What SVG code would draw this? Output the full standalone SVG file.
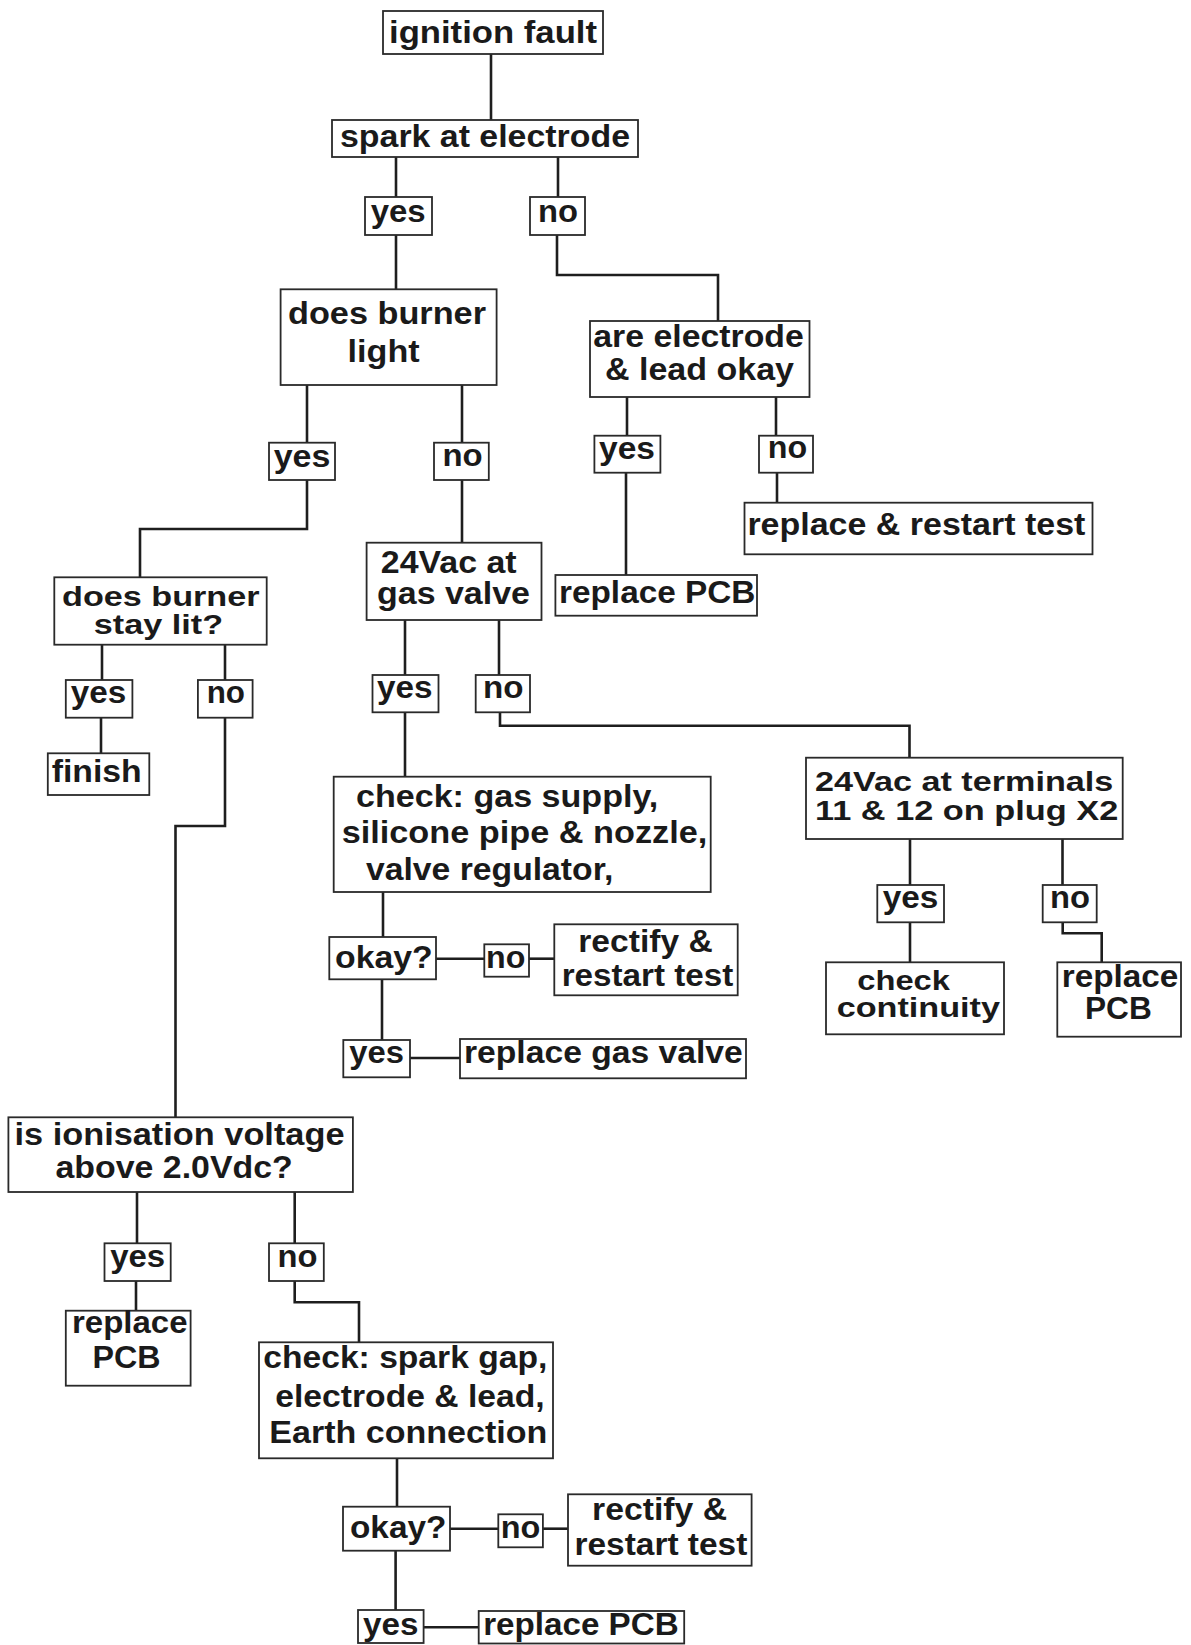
<svg xmlns="http://www.w3.org/2000/svg" width="1191" height="1645" viewBox="0 0 1191 1645">
<style>
.box{fill:#fff;stroke:#2a2a2a;stroke-width:1.8}
.c{fill:none;stroke:#1e1e1e;stroke-width:2.6}
text{font-family:"Liberation Sans",Arial,sans-serif;font-weight:bold;font-size:31px;fill:#1a1a1a}
text.s{font-size:28px}
</style>
<rect width="1191" height="1645" fill="#fff"/>
<g id="connectors">
<path class="c" d="M491,54V120"/>
<path class="c" d="M396,157V197"/>
<path class="c" d="M558,157V197"/>
<path class="c" d="M396,235V289"/>
<path class="c" d="M557,235V275H718V321"/>
<path class="c" d="M307,385V443"/>
<path class="c" d="M462,385V443"/>
<path class="c" d="M627,397V436"/>
<path class="c" d="M776,397V436"/>
<path class="c" d="M307,480V529H140V577"/>
<path class="c" d="M462,480V543"/>
<path class="c" d="M626,473V575"/>
<path class="c" d="M777,473V503"/>
<path class="c" d="M102,645V680"/>
<path class="c" d="M225,645V680"/>
<path class="c" d="M101,718V753"/>
<path class="c" d="M225,718V826H175.5V1117"/>
<path class="c" d="M405,620V675"/>
<path class="c" d="M499,620V675"/>
<path class="c" d="M405,712V777"/>
<path class="c" d="M500,712V725.7H909.5V758"/>
<path class="c" d="M383,892V937"/>
<path class="c" d="M436,958.7H484"/>
<path class="c" d="M529,958.7H554"/>
<path class="c" d="M382,979V1040"/>
<path class="c" d="M410,1058H460"/>
<path class="c" d="M910,839V885"/>
<path class="c" d="M1062.5,839V885"/>
<path class="c" d="M910,922V962"/>
<path class="c" d="M1062.7,922V933.3H1101.7V962.3"/>
<path class="c" d="M137,1192V1243"/>
<path class="c" d="M294.7,1192V1243"/>
<path class="c" d="M136,1281V1311"/>
<path class="c" d="M294.7,1281V1302.3H359V1342"/>
<path class="c" d="M397,1458V1507"/>
<path class="c" d="M450,1528.7H498"/>
<path class="c" d="M543,1528.7H568"/>
<path class="c" d="M395.6,1551V1610"/>
<path class="c" d="M423.6,1627.3H478.7"/>
</g>
<g id="n-ignition-fault"><rect class="box" x="383" y="11" width="220" height="43"/><text x="389" y="43" textLength="208" lengthAdjust="spacingAndGlyphs">ignition fault</text></g>
<g id="n-spark"><rect class="box" x="332" y="120" width="306" height="37"/><text x="340" y="147" textLength="290" lengthAdjust="spacingAndGlyphs">spark at electrode</text></g>
<g id="n-spark-yes"><rect class="box" x="365" y="197" width="67" height="38"/><text x="370.7" y="222" textLength="55" lengthAdjust="spacingAndGlyphs">yes</text></g>
<g id="n-spark-no"><rect class="box" x="530" y="197" width="55" height="38"/><text x="538" y="222" textLength="40" lengthAdjust="spacingAndGlyphs">no</text></g>
<g id="n-burner-light"><rect class="box" x="280.6" y="289.3" width="216" height="95.7"/><text x="288" y="324" textLength="198" lengthAdjust="spacingAndGlyphs">does burner</text><text x="347.6" y="361.7" textLength="72" lengthAdjust="spacingAndGlyphs">light</text></g>
<g id="n-electrode-ok"><rect class="box" x="590" y="321" width="219.5" height="76"/><text x="593.3" y="347.3" textLength="210.5" lengthAdjust="spacingAndGlyphs">are electrode</text><text x="605" y="380" textLength="189" lengthAdjust="spacingAndGlyphs">&amp; lead okay</text></g>
<g id="n-light-yes"><rect class="box" x="269" y="442.7" width="66" height="37.3"/><text x="273.7" y="466.7" textLength="56.7" lengthAdjust="spacingAndGlyphs">yes</text></g>
<g id="n-light-no"><rect class="box" x="434" y="442.7" width="54.8" height="37.3"/><text x="442.5" y="466" textLength="40.2" lengthAdjust="spacingAndGlyphs">no</text></g>
<g id="n-electrode-yes"><rect class="box" x="594.4" y="435.7" width="66" height="37"/><text x="599" y="459.3" textLength="56" lengthAdjust="spacingAndGlyphs">yes</text></g>
<g id="n-electrode-no"><rect class="box" x="759" y="435.7" width="54" height="37"/><text x="767.8" y="458.3" textLength="39.4" lengthAdjust="spacingAndGlyphs">no</text></g>
<g id="n-replace-restart"><rect class="box" x="744.5" y="502.7" width="348" height="51.6"/><text x="747.4" y="535" textLength="338" lengthAdjust="spacingAndGlyphs">replace &amp; restart test</text></g>
<g id="n-replace-pcb-1"><rect class="box" x="555.4" y="575" width="201.6" height="40.7"/><text x="559" y="603.3" textLength="196.4" lengthAdjust="spacingAndGlyphs">replace PCB</text></g>
<g id="n-stay-lit"><rect class="box" x="54.3" y="577.3" width="212.4" height="67.4"/><text class="s" x="62" y="605.7" textLength="197.5" lengthAdjust="spacingAndGlyphs">does burner</text><text class="s" x="93.8" y="634.3" textLength="129.3" lengthAdjust="spacingAndGlyphs">stay lit?</text></g>
<g id="n-stay-yes"><rect class="box" x="65.8" y="680" width="66.6" height="37.7"/><text x="70.8" y="703.3" textLength="55.5" lengthAdjust="spacingAndGlyphs">yes</text></g>
<g id="n-stay-no"><rect class="box" x="197.9" y="680" width="54.7" height="37.7"/><text x="206.7" y="703.3" textLength="38.3" lengthAdjust="spacingAndGlyphs">no</text></g>
<g id="n-finish"><rect class="box" x="47.8" y="753.3" width="101.5" height="41.7"/><text x="51.7" y="781.7" textLength="90" lengthAdjust="spacingAndGlyphs">finish</text></g>
<g id="n-24vac-valve"><rect class="box" x="366.6" y="542.7" width="174.9" height="77.3"/><text x="380.8" y="572.7" textLength="135.8" lengthAdjust="spacingAndGlyphs">24Vac at</text><text x="377" y="604" textLength="153" lengthAdjust="spacingAndGlyphs">gas valve</text></g>
<g id="n-valve-yes"><rect class="box" x="372.5" y="675" width="66" height="37.3"/><text x="377" y="698.3" textLength="55.5" lengthAdjust="spacingAndGlyphs">yes</text></g>
<g id="n-valve-no"><rect class="box" x="475.7" y="675" width="54.3" height="37.3"/><text x="483" y="698.3" textLength="40.5" lengthAdjust="spacingAndGlyphs">no</text></g>
<g id="n-check-gas"><rect class="box" x="333.7" y="776.7" width="377" height="115.3"/><text x="356" y="806.7" textLength="302.3" lengthAdjust="spacingAndGlyphs">check: gas supply,</text><text x="341.7" y="843.3" textLength="365.6" lengthAdjust="spacingAndGlyphs">silicone pipe &amp; nozzle,</text><text x="366" y="880" textLength="247.3" lengthAdjust="spacingAndGlyphs">valve regulator,</text></g>
<g id="n-okay-1"><rect class="box" x="329.3" y="937" width="106.7" height="42.3"/><text x="335" y="968.3" textLength="97.7" lengthAdjust="spacingAndGlyphs">okay?</text></g>
<g id="n-okay-1-no"><rect class="box" x="484.3" y="944.3" width="44.7" height="32.4"/><text x="486" y="968.3" textLength="39.3" lengthAdjust="spacingAndGlyphs">no</text></g>
<g id="n-rectify-1"><rect class="box" x="554.3" y="924.3" width="183.4" height="71"/><text x="578.3" y="951.7" textLength="134.4" lengthAdjust="spacingAndGlyphs">rectify &amp;</text><text x="561.7" y="986" textLength="171.6" lengthAdjust="spacingAndGlyphs">restart test</text></g>
<g id="n-okay-1-yes"><rect class="box" x="343.3" y="1040" width="66.7" height="37.3"/><text x="349.3" y="1062.7" textLength="54.7" lengthAdjust="spacingAndGlyphs">yes</text></g>
<g id="n-replace-valve"><rect class="box" x="460" y="1039" width="286" height="39.3"/><text x="464" y="1062.7" textLength="278.7" lengthAdjust="spacingAndGlyphs">replace gas valve</text></g>
<g id="n-24vac-terminals"><rect class="box" x="806" y="757.7" width="316.7" height="81.3"/><text class="s" x="815" y="790.7" textLength="298.3" lengthAdjust="spacingAndGlyphs">24Vac at terminals</text><text class="s" x="815" y="820" textLength="303.3" lengthAdjust="spacingAndGlyphs">11 &amp; 12 on plug X2</text></g>
<g id="n-term-yes"><rect class="box" x="877.3" y="885" width="66.7" height="37.3"/><text x="882.7" y="908.3" textLength="55.6" lengthAdjust="spacingAndGlyphs">yes</text></g>
<g id="n-term-no"><rect class="box" x="1042.7" y="885" width="54" height="37.3"/><text x="1050" y="908.3" textLength="40" lengthAdjust="spacingAndGlyphs">no</text></g>
<g id="n-continuity"><rect class="box" x="826" y="962.3" width="178" height="72"/><text class="s" x="857.3" y="990" textLength="92.7" lengthAdjust="spacingAndGlyphs">check</text><text class="s" x="836.7" y="1016.7" textLength="163.3" lengthAdjust="spacingAndGlyphs">continuity</text></g>
<g id="n-replace-pcb-2"><rect class="box" x="1057.3" y="962.3" width="123.7" height="74.4"/><text x="1061.7" y="986.7" textLength="116.6" lengthAdjust="spacingAndGlyphs">replace</text><text x="1085" y="1019.3" textLength="66.7" lengthAdjust="spacingAndGlyphs">PCB</text></g>
<g id="n-ionisation"><rect class="box" x="8.4" y="1117.3" width="344.5" height="74.7"/><text x="14.5" y="1145" textLength="330" lengthAdjust="spacingAndGlyphs">is ionisation voltage</text><text x="55.5" y="1178.3" textLength="237.3" lengthAdjust="spacingAndGlyphs">above 2.0Vdc?</text></g>
<g id="n-ion-yes"><rect class="box" x="104.5" y="1243.3" width="66.2" height="37.7"/><text x="110.2" y="1266.7" textLength="55" lengthAdjust="spacingAndGlyphs">yes</text></g>
<g id="n-ion-no"><rect class="box" x="269" y="1243.3" width="54.8" height="37.7"/><text x="277.5" y="1266.7" textLength="40" lengthAdjust="spacingAndGlyphs">no</text></g>
<g id="n-replace-pcb-3"><rect class="box" x="65.8" y="1310.7" width="124.8" height="75"/><text x="72" y="1333.3" textLength="115.5" lengthAdjust="spacingAndGlyphs">replace</text><text x="92.6" y="1368.3" textLength="68" lengthAdjust="spacingAndGlyphs">PCB</text></g>
<g id="n-check-spark"><rect class="box" x="259" y="1342.3" width="294" height="116"/><text x="263.3" y="1368.3" textLength="284" lengthAdjust="spacingAndGlyphs">check: spark gap,</text><text x="275.3" y="1406.7" textLength="269.3" lengthAdjust="spacingAndGlyphs">electrode &amp; lead,</text><text x="269.3" y="1443.3" textLength="278" lengthAdjust="spacingAndGlyphs">Earth connection</text></g>
<g id="n-okay-2"><rect class="box" x="343" y="1506.7" width="107" height="44"/><text x="350" y="1538.3" textLength="96.4" lengthAdjust="spacingAndGlyphs">okay?</text></g>
<g id="n-okay-2-no"><rect class="box" x="498.3" y="1514.3" width="44.6" height="33"/><text x="500.8" y="1538.3" textLength="39.6" lengthAdjust="spacingAndGlyphs">no</text></g>
<g id="n-rectify-2"><rect class="box" x="568" y="1494.3" width="183.6" height="71.4"/><text x="592" y="1520" textLength="135" lengthAdjust="spacingAndGlyphs">rectify &amp;</text><text x="574.4" y="1555" textLength="173" lengthAdjust="spacingAndGlyphs">restart test</text></g>
<g id="n-okay-2-yes"><rect class="box" x="358" y="1610" width="65.6" height="33"/><text x="363" y="1635" textLength="55.4" lengthAdjust="spacingAndGlyphs">yes</text></g>
<g id="n-replace-pcb-4"><rect class="box" x="478.7" y="1611" width="205.5" height="32.5"/><text x="483.2" y="1635" textLength="195.4" lengthAdjust="spacingAndGlyphs">replace PCB</text></g>
</svg>
